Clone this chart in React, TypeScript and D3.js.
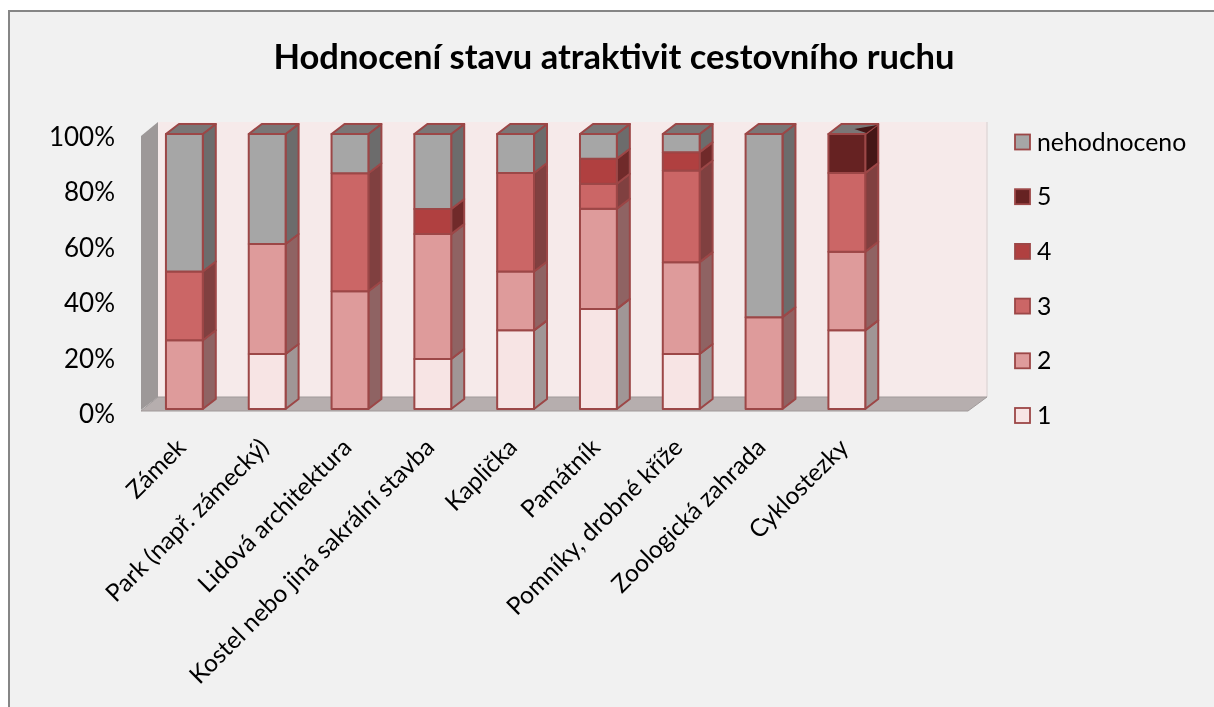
import React from "react";
import * as d3 from "d3";

const categories = ["Zámek", "Park (např. zámecký)", "Lidová architektura", "Kostel nebo jiná sakrální stavba", "Kaplička", "Památník", "Pomníky, drobné kříže", "Zoologická zahrada", "Cyklostezky"];
const seriesNames = ["1", "2", "3", "4", "5", "nehodnoceno"];
const s1 = [0, 20, 0, 18.2, 28.6, 36.4, 20, 0, 28.6];
const s2 = [25, 40, 42.8, 45.4, 21.4, 36.4, 33.4, 33.4, 28.6];
const s3 = [25, 0, 42.9, 0, 35.8, 9.1, 33.3, 0, 28.6];
const s4 = [0, 0, 0, 9.1, 0, 9.1, 6.7, 0, 0];
const s5 = [0, 0, 0, 0, 0, 0, 0, 0, 14.2];
const sN = [50, 40, 14.3, 27.3, 14.2, 9, 6.6, 66.6, 0];
const fills = ["#f7e4e4", "#de9b9b", "#cb6666", "#b04040", "#662424", "#a6a6a6"];
const sides = ["#a09696", "#8f6363", "#804040", "#702c2c", "#451616", "#6c6c6c"];
const ticks = [0, 20, 40, 60, 80, 100];
const EDGE = "#9c4646";

export default function App() {
  const W = 1214, H = 707;
  const dx = 13, dy = 10;
  const x = d3.scaleBand<number>().domain(d3.range(10)).range([143, 971]).paddingInner(0.555).paddingOuter(0.277);
  const y = d3.scaleLinear().domain([0, 100]).range([409, 134]);
  const yLabel = d3.scaleLinear().domain([0, 100]).range([423, 146]);
  const rows = categories.map((c, i) => ({ c, i, v: [s1[i], s2[i], s3[i], s4[i], s5[i], sN[i]] }));
  const stack = d3.stack<any, number>().keys(d3.range(6)).value((d, k) => d.v[k]);
  const layers = stack(rows as any);
  const x0 = 141, x1 = 970;
  const bw = x.bandwidth();
  const ly = d3.scaleLinear().domain([0, 5]).range([415.5, 142]);
  const lastX = x(8)!;
  return (
    <svg width={W} height={H} style={{ position: "absolute", left: 0, top: 0 }} fontFamily="Lato, 'Noto Sans', sans-serif">
      <defs>
        <filter id="soft" x="-5%" y="-5%" width="110%" height="110%"><feGaussianBlur stdDeviation="0.55" /></filter>
        <filter id="softText" x="-5%" y="-5%" width="110%" height="110%"><feGaussianBlur stdDeviation="0.25" /></filter>
      </defs>
      <rect x={9} y={11} width={W} height={H} fill="#f1f1f1" stroke="#868686" strokeWidth={2} />
      <g filter="url(#soft)">
        <rect x={x0 + 17} y={122} width={x1 - x0} height={275} fill="#f6eaea" />
        <line x1={x1 + 17} x2={x1 + 17} y1={122} y2={397} stroke="#e0d8d8" strokeWidth={1.5} />
        <polygon points={`${x0},${y(0) + 1} ${x0 + 17},397 ${x0 + 17},122 ${x0},${y(100) + 2}`} fill="#9d9898" />
        <polygon points={`${x0},${y(0) + 2} ${x0 + 17},397 ${x1 + 17},397 ${x1 - 2},${y(0) + 2}`} fill="#b6aeae" stroke="#a09a9a" />
        {layers.map((l, k) => l.map((d, i) => {
          const h = d[1] - d[0];
          if (h <= 0) return null;
          const bx = x(i)!;
          const yb = y(d[0]), yt = y(d[1]);
          const isTop = d[1] >= 99.9;
          return (
            <g key={`${k}-${i}`} stroke={EDGE} strokeWidth={2} strokeLinejoin="round">
              <polygon points={`${bx + bw},${yb} ${bx + bw + dx},${yb - dy} ${bx + bw + dx},${yt - dy} ${bx + bw},${yt}`} fill={sides[k]} />
              {isTop && <polygon points={`${bx},${yt} ${bx + dx},${yt - dy} ${bx + bw + dx},${yt - dy} ${bx + bw},${yt}`} fill="#7a7676" />}
              <rect x={bx} y={yt} width={bw} height={yb - yt} fill={fills[k]} />
            </g>
          );
        }))}
        <polygon points={`${lastX + 26},${y(100) - 5} ${lastX + bw + dx - 1},${y(100) - 9} ${lastX + bw + 1},${y(100) - 1}`} fill={sides[4]} />
      </g>
      <g filter="url(#softText)" fill="#000">
        <text x={614} y={69} textAnchor="middle" fontSize={34.5} fontWeight={700}>Hodnocení stavu atraktivit cestovního ruchu</text>
        {ticks.map(t => (
          <text key={t} x={115} y={yLabel(t)} textAnchor="end" fontSize={26}>{t}%</text>
        ))}
        {categories.map((c, i) => (
          <text key={c} transform={`translate(${x(i)! + bw / 2 + 3},${449}) rotate(-45)`} textAnchor="end" fontSize={24.4}>{c}</text>
        ))}
        {seriesNames.map((n, k) => (
          <text key={n} x={1037} y={ly(k) + 8.5} fontSize={24.8}>{n}</text>
        ))}
      </g>
      <g filter="url(#soft)">
        {seriesNames.map((n, k) => (
          <rect key={n} x={1015} y={ly(k) - 7.5} width={15} height={15} fill={fills[k]} stroke={EDGE} strokeWidth={1.8} />
        ))}
      </g>
    </svg>
  );
}
